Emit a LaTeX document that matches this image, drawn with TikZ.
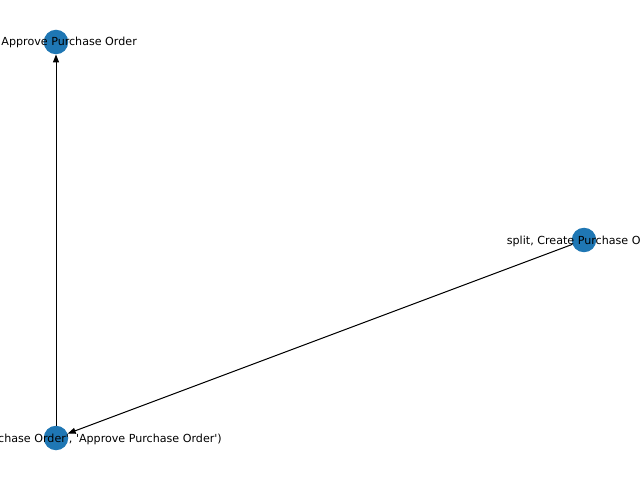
\documentclass[tikz,border=0pt]{standalone}
\usepackage{fontspec}
\setmainfont{DejaVu Sans}
\usetikzlibrary{arrows.meta}
\definecolor{nxblue}{HTML}{1F77B4}
\newcommand{\sq}{\textquotesingle}
\begin{document}
\begin{tikzpicture}[x=1pt,y=1pt,
  vert/.style={circle,fill=nxblue,draw=none,minimum size=24.5pt,inner sep=0pt},
  lbl/.style={inner sep=0pt,font=\fontsize{11.11}{13}\selectfont},
  edge/.style={draw=black,line width=1pt,-{Triangle[length=8pt,width=6pt]}}]
\useasboundingbox (0,0) rectangle (640,480);
\fill[white] (0,0) rectangle (640,480);
\node[vert] (top) at (56,438) {};
\node[vert] (right) at (584,240) {};
\node[vert] (bot) at (56,42) {};
\draw[edge] (bot) -- (top);
\draw[edge] (right) -- (bot);
\node[lbl,anchor=base east] (ltop) at (137,434) {join, Approve Purchase Order};
\node[lbl,anchor=base west] (lright) at (506.7,236) {split, Create Purchase Order};
\node[lbl,anchor=base east] (lbot) at (222,38) {(\sq Create Purchase Order\sq, \sq Approve Purchase Order\sq)};
\end{tikzpicture}
\end{document}
